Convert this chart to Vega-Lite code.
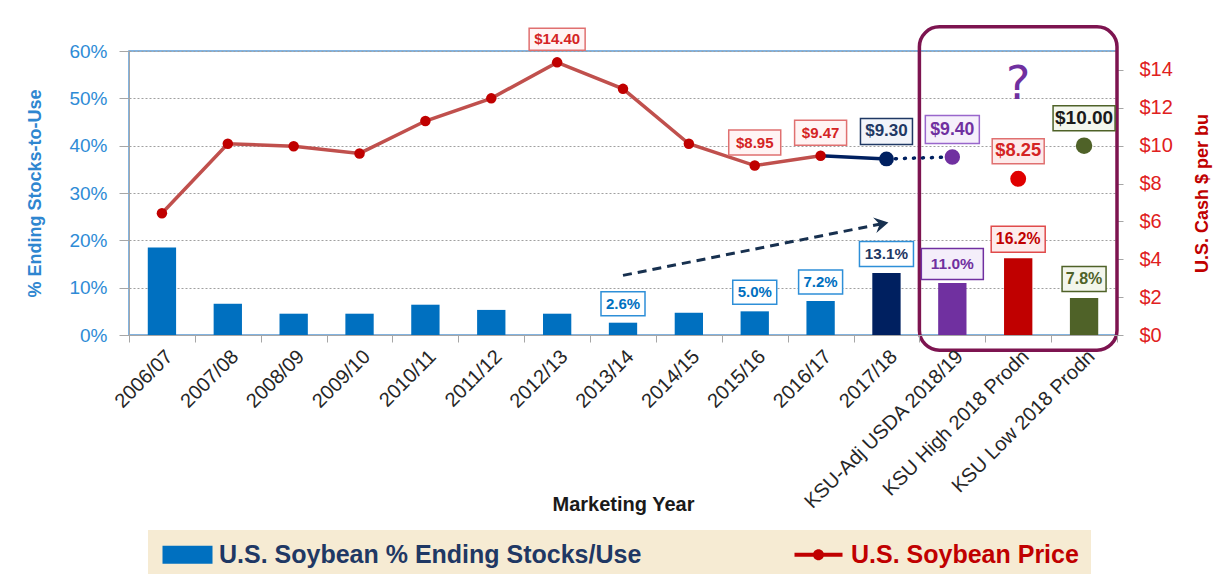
{
  "$schema": "https://vega.github.io/schema/vega-lite/v6.json",
  "width": 988,
  "height": 284,
  "autosize": {"type": "none"},
  "padding": {"left": 129, "top": 51, "right": 98, "bottom": 239},
  "background": "#ffffff",
  "config": {
    "font": "Liberation Sans, sans-serif",
    "view": {"stroke": "#5B9BD5", "strokeWidth": 1.5}
  },
  "datasets": {
    "soy": [
      {"year": "2006/07", "stocks": 0.185, "price": 6.43, "group": "hist"},
      {"year": "2007/08", "stocks": 0.066, "price": 10.10, "group": "hist"},
      {"year": "2008/09", "stocks": 0.045, "price": 9.97, "group": "hist"},
      {"year": "2009/10", "stocks": 0.045, "price": 9.59, "group": "hist"},
      {"year": "2010/11", "stocks": 0.064, "price": 11.30, "group": "hist"},
      {"year": "2011/12", "stocks": 0.053, "price": 12.50, "group": "hist"},
      {"year": "2012/13", "stocks": 0.045, "price": 14.40, "group": "hist"},
      {"year": "2013/14", "stocks": 0.026, "price": 13.00, "group": "hist"},
      {"year": "2014/15", "stocks": 0.047, "price": 10.10, "group": "hist"},
      {"year": "2015/16", "stocks": 0.050, "price": 8.95, "group": "hist"},
      {"year": "2016/17", "stocks": 0.072, "price": 9.47, "group": "hist"},
      {"year": "2017/18", "stocks": 0.131, "price": 9.30, "group": "current"},
      {"year": "KSU-Adj USDA 2018/19", "stocks": 0.110, "price": 9.40, "group": "adj"},
      {"year": "KSU High 2018 Prodn", "stocks": 0.162, "price": 8.25, "group": "high"},
      {"year": "KSU Low 2018 Prodn", "stocks": 0.078, "price": 10.00, "group": "low"}
    ],
    "legendItems": [
      {"series": "U.S. Soybean % Ending Stocks/Use"},
      {"series": "U.S. Soybean Price"}
    ],
    "frame": [
      {"from": "KSU-Adj USDA 2018/19", "to": "KSU Low 2018 Prodn", "top": 0.651, "bottom": -0.032}
    ],
    "arrow": [
      {"from": "2013/14", "to": "2017/18", "y1": 0.126, "y2": 0.237}
    ],
    "note": [
      {"year": "KSU High 2018 Prodn", "price": 13.2, "text": "?"}
    ]
  },
  "layer": [
    {
      "data": {"name": "soy"},
      "encoding": {
        "x": {
          "field": "year", "type": "nominal", "sort": null, "title": "Marketing Year",
          "scale": {"domain": ["2006/07","2007/08","2008/09","2009/10","2010/11","2011/12","2012/13","2013/14","2014/15","2015/16","2016/17","2017/18","KSU-Adj USDA 2018/19","KSU High 2018 Prodn","KSU Low 2018 Prodn"], "paddingInner": 0, "paddingOuter": 0},
          "axis": {
            "labelAngle": -45, "labelFontSize": 20, "labelColor": "#262626", "labelLimit": 0,
            "tickBand": "extent", "tickSize": 7, "tickColor": "#A6A6A6", "domainColor": "#A6A6A6",
            "grid": false, "labelPadding": 4,
            "titleFontSize": 20, "titleFontWeight": "bold", "titleColor": "#1A1A1A",
            "titleY": 159, "titleBaseline": "top"
          }
        },
        "y": {
          "field": "stocks", "type": "quantitative",
          "scale": {"domain": [0, 0.6], "nice": false},
          "title": "% Ending Stocks-to-Use",
          "axis": {
            "orient": "left", "format": ".0%", "values": [0, 0.1, 0.2, 0.3, 0.4, 0.5, 0.6],
            "grid": true, "gridColor": "#A0A0A0", "gridDash": [2, 2], "gridWidth": 1,
            "labelFontSize": 19, "labelColor": "#2E8BD6", "labelPadding": 12,
            "tickSize": 10, "tickColor": "#A6A6A6", "domainColor": "#A6A6A6",
            "titleFontSize": 18, "titleColor": "#2E86D0", "titleFontWeight": "bold", "titlePadding": 24
          }
        }
      },
      "layer": [
        {
          "data": {"name": "frame"},
          "mark": {"type": "rect", "filled": false, "stroke": "#7D1450", "strokeWidth": 3.5, "cornerRadius": 20},
          "encoding": {
            "x": {"field": "from", "type": "nominal", "bandPosition": 0, "title": "Marketing Year"},
            "x2": {"field": "to", "bandPosition": 1},
            "y": {"field": "top", "type": "quantitative", "title": "% Ending Stocks-to-Use"},
            "y2": {"field": "bottom"}
          }
        },
        {
          "mark": {"type": "bar", "width": {"band": 0.43}},
          "encoding": {
            "color": {
              "field": "group", "type": "nominal", "legend": null,
              "scale": {"domain": ["hist", "current", "adj", "high", "low"], "range": ["#0070C0", "#002060", "#7030A0", "#C00000", "#4F6228"]}
            }
          }
        },
        {
          "data": {"name": "arrow"},
          "mark": {"type": "rule", "stroke": "#17304F", "strokeWidth": 3, "strokeDash": [9, 6]},
          "encoding": {
            "x": {"field": "from", "type": "nominal", "title": "Marketing Year"},
            "x2": {"field": "to"},
            "y": {"field": "y1", "type": "quantitative", "title": "% Ending Stocks-to-Use"},
            "y2": {"field": "y2"}
          }
        },
        {
          "data": {"name": "arrow"},
          "mark": {"type": "point", "shape": "M2,0L-12,-8L-7,0L-12,8Z", "size": 4, "filled": true, "fill": "#17304F", "strokeWidth": 0, "opacity": 1, "angle": -11.7},
          "encoding": {
            "x": {"field": "to", "type": "nominal", "title": "Marketing Year"},
            "y": {"field": "y2", "type": "quantitative", "title": "% Ending Stocks-to-Use"}
          }
        },
        {
          "transform": [{"filter": {"field": "year", "oneOf": ["2013/14", "2015/16", "2016/17", "2017/18", "KSU-Adj USDA 2018/19", "KSU High 2018 Prodn", "KSU Low 2018 Prodn"]}}],
          "mark": {"type": "point", "size": 4, "filled": true, "strokeWidth": 1.5, "opacity": 1},
          "encoding": {
            "shape": {
              "field": "year", "type": "nominal", "legend": null,
              "scale": {
                "domain": ["2013/14", "2015/16", "2016/17", "2017/18", "KSU-Adj USDA 2018/19", "KSU High 2018 Prodn", "KSU Low 2018 Prodn"],
                "range": ["M-22,-31H22V-7H-22Z", "M-22,-31H22V-7H-22Z", "M-22,-31H22V-7H-22Z", "M-27,-31.5H27V-6.5H-27Z", "M-31,-34.5H31V-3.5H-31Z", "M-27,-32H27V-6H-27Z", "M-22,-31.5H22V-6.5H-22Z"]
              }
            },
            "fill": {
              "field": "group", "type": "nominal", "legend": null,
              "scale": {"domain": ["hist", "current", "adj", "high", "low"], "range": ["#FFFFFF", "#FFFFFF", "#F4EEFA", "#FDECEC", "#F3F6EC"]}
            },
            "stroke": {
              "field": "group", "type": "nominal", "legend": null,
              "scale": {"domain": ["hist", "current", "adj", "high", "low"], "range": ["#2E8FD8", "#2E8FD8", "#7030A0", "#E04B4B", "#4F6228"]}
            }
          }
        },
        {
          "transform": [{"filter": {"field": "year", "oneOf": ["2013/14", "2015/16", "2016/17", "2017/18", "KSU-Adj USDA 2018/19", "KSU High 2018 Prodn", "KSU Low 2018 Prodn"]}}],
          "mark": {"type": "text", "dy": -19, "baseline": "middle", "align": "center", "fontWeight": "bold"},
          "encoding": {
            "text": {"field": "stocks", "type": "quantitative", "format": ".1%"},
            "color": {
              "field": "group", "type": "nominal", "legend": null,
              "scale": {"domain": ["hist", "current", "adj", "high", "low"], "range": ["#0070C0", "#1F3864", "#7030A0", "#C00000", "#4F6228"]}
            },
            "size": {
              "field": "group", "type": "nominal", "legend": null,
              "scale": {"domain": ["hist", "current", "adj", "high", "low"], "range": [15, 16, 20, 18, 17]}
            }
          }
        }
      ],
      "resolve": {"scale": {"color": "independent", "fill": "independent", "stroke": "independent", "shape": "independent", "size": "independent"}}
    },
    {
      "data": {"name": "soy"},
      "encoding": {
        "x": {"field": "year", "type": "nominal", "sort": null, "title": "Marketing Year",
          "scale": {"domain": ["2006/07","2007/08","2008/09","2009/10","2010/11","2011/12","2012/13","2013/14","2014/15","2015/16","2016/17","2017/18","KSU-Adj USDA 2018/19","KSU High 2018 Prodn","KSU Low 2018 Prodn"], "paddingInner": 0, "paddingOuter": 0}},
        "y": {
          "field": "price", "type": "quantitative",
          "scale": {"domain": [0, 15], "nice": false},
          "title": "U.S. Cash $ per bu",
          "axis": {
            "orient": "right", "format": "$.0f", "values": [0, 2, 4, 6, 8, 10, 12, 14], "grid": false,
            "labelFontSize": 20, "labelColor": "#E02020", "labelPadding": 16,
            "tickSize": 6, "tickColor": "#A6A6A6", "domainColor": "#A6A6A6",
            "titleFontSize": 18, "titleColor": "#C00000", "titleFontWeight": "bold", "titlePadding": 39, "titleAngle": 270
          }
        }
      },
      "layer": [
        {
          "transform": [{"filter": {"field": "group", "equal": "hist"}}],
          "mark": {"type": "line", "stroke": "#C0504D", "strokeWidth": 3.5}
        },
        {
          "transform": [{"filter": {"field": "year", "oneOf": ["2016/17", "2017/18"]}}],
          "mark": {"type": "line", "stroke": "#002060", "strokeWidth": 3.5}
        },
        {
          "transform": [{"filter": {"field": "year", "oneOf": ["2017/18", "KSU-Adj USDA 2018/19"]}}],
          "mark": {"type": "line", "stroke": "#002060", "strokeWidth": 3.5, "strokeDash": [1, 8], "strokeCap": "round"}
        },
        {
          "transform": [{"filter": {"field": "group", "equal": "hist"}}],
          "mark": {"type": "point", "filled": true, "fill": "#C00000", "size": 110, "opacity": 1, "strokeWidth": 0}
        },
        {
          "transform": [{"filter": {"field": "group", "oneOf": ["current", "adj", "high", "low"]}}],
          "mark": {"type": "point", "filled": true, "opacity": 1, "strokeWidth": 0},
          "encoding": {
            "color": {
              "field": "group", "type": "nominal", "legend": null,
              "scale": {"domain": ["current", "adj", "high", "low"], "range": ["#002060", "#7030A0", "#E00000", "#4F6228"]}
            },
            "size": {
              "field": "group", "type": "nominal", "legend": null,
              "scale": {"domain": ["current", "adj", "high", "low"], "range": [220, 270, 270, 250]}
            }
          }
        },
        {
          "transform": [{"filter": {"field": "year", "oneOf": ["2012/13", "2015/16", "2016/17", "2017/18", "KSU-Adj USDA 2018/19", "KSU High 2018 Prodn", "KSU Low 2018 Prodn"]}}],
          "mark": {"type": "point", "size": 4, "filled": true, "strokeWidth": 1.5, "opacity": 1},
          "encoding": {
            "shape": {
              "field": "year", "type": "nominal", "legend": null,
              "scale": {
                "domain": ["2012/13", "2015/16", "2016/17", "2017/18", "KSU-Adj USDA 2018/19", "KSU High 2018 Prodn", "KSU Low 2018 Prodn"],
                "range": ["M-28,-34H28V-12H-28Z", "M-26,-35.5H26V-10.5H-26Z", "M-26,-35.5H26V-10.5H-26Z", "M-26,-40.5H26V-14.5H-26Z", "M-27,-41.5H27V-13.5H-27Z", "M-26,-40H26V-15H-26Z", "M-31,-40H31V-15H-31Z"]
              }
            },
            "fill": {
              "field": "group", "type": "nominal", "legend": null,
              "scale": {"domain": ["hist", "current", "adj", "high", "low"], "range": ["#FFF4F4", "#F2F4FA", "#F6F0FB", "#FDEBEB", "#F4F7EE"]}
            },
            "stroke": {
              "field": "group", "type": "nominal", "legend": null,
              "scale": {"domain": ["hist", "current", "adj", "high", "low"], "range": ["#E07070", "#1F3864", "#9966CC", "#E07070", "#4F6228"]}
            }
          }
        },
        {
          "transform": [{"filter": {"field": "year", "oneOf": ["2012/13", "2015/16", "2016/17"]}}],
          "mark": {"type": "text", "dy": -23, "baseline": "middle", "align": "center", "fontWeight": "bold", "fontSize": 15, "color": "#D42424"},
          "encoding": {
            "text": {"field": "price", "type": "quantitative", "format": "$.2f"}
          }
        },
        {
          "transform": [{"filter": {"field": "group", "oneOf": ["current", "adj", "high", "low"]}}],
          "mark": {"type": "text", "dy": -27.5, "baseline": "middle", "align": "center", "fontWeight": "bold"},
          "encoding": {
            "text": {"field": "price", "type": "quantitative", "format": "$.2f"},
            "color": {
              "field": "group", "type": "nominal", "legend": null,
              "scale": {"domain": ["current", "adj", "high", "low"], "range": ["#1F3864", "#7030A0", "#D42424", "#1A1A1A"]}
            },
            "size": {
              "field": "group", "type": "nominal", "legend": null,
              "scale": {"domain": ["current", "adj", "high", "low"], "range": [17, 19, 17, 17]}
            }
          }
        },
        {
          "data": {"name": "note"},
          "mark": {"type": "text", "baseline": "middle", "align": "center", "fontSize": 46, "fontWeight": "normal", "font": "DejaVu Sans", "color": "#7030A0"},
          "encoding": {
            "text": {"field": "text", "type": "nominal"}
          }
        }
      ],
      "resolve": {"scale": {"color": "independent", "fill": "independent", "stroke": "independent", "shape": "independent", "size": "independent"}}
    },
    {
      "data": {"name": "legendItems"},
      "mark": {"type": "point", "filled": true, "opacity": 0, "size": 1},
      "encoding": {
        "fill": {
          "field": "series", "type": "nominal",
          "scale": {"domain": ["U.S. Soybean % Ending Stocks/Use", "U.S. Soybean Price"], "range": ["#0070C0", "#C00000"]},
          "legend": {
            "title": null, "orient": "none", "legendX": 19, "legendY": 479, "direction": "horizontal",
            "fillColor": "#F6EBD3", "padding": 12, "symbolSize": 400, "symbolOpacity": 1, "symbolStrokeWidth": 0,
            "labelFontSize": 25, "labelFontWeight": "bold", "labelOffset": 34, "columnPadding": 150, "labelLimit": 0,
            "encode": {
              "symbols": {"update": {"opacity": {"value": 1}}},
              "labels": {"update": {"fill": {"signal": "datum.label === 'U.S. Soybean Price' ? '#C00000' : '#1F3864'"}}}
            }
          }
        },
        "shape": {
          "field": "series", "type": "nominal",
          "scale": {"domain": ["U.S. Soybean % Ending Stocks/Use", "U.S. Soybean Price"], "range": ["M-1,-0.9H4V0.9H-1Z", "M-1,-0.2H3.8V0.2H-1Z M0.85,0A0.55,0.55 0 1,1 1.95,0A0.55,0.55 0 1,1 0.85,0Z"]}
        }
      }
    }
  ],
  "resolve": {"scale": {"y": "independent", "color": "independent", "fill": "independent", "stroke": "independent", "shape": "independent", "size": "independent"}}
}
